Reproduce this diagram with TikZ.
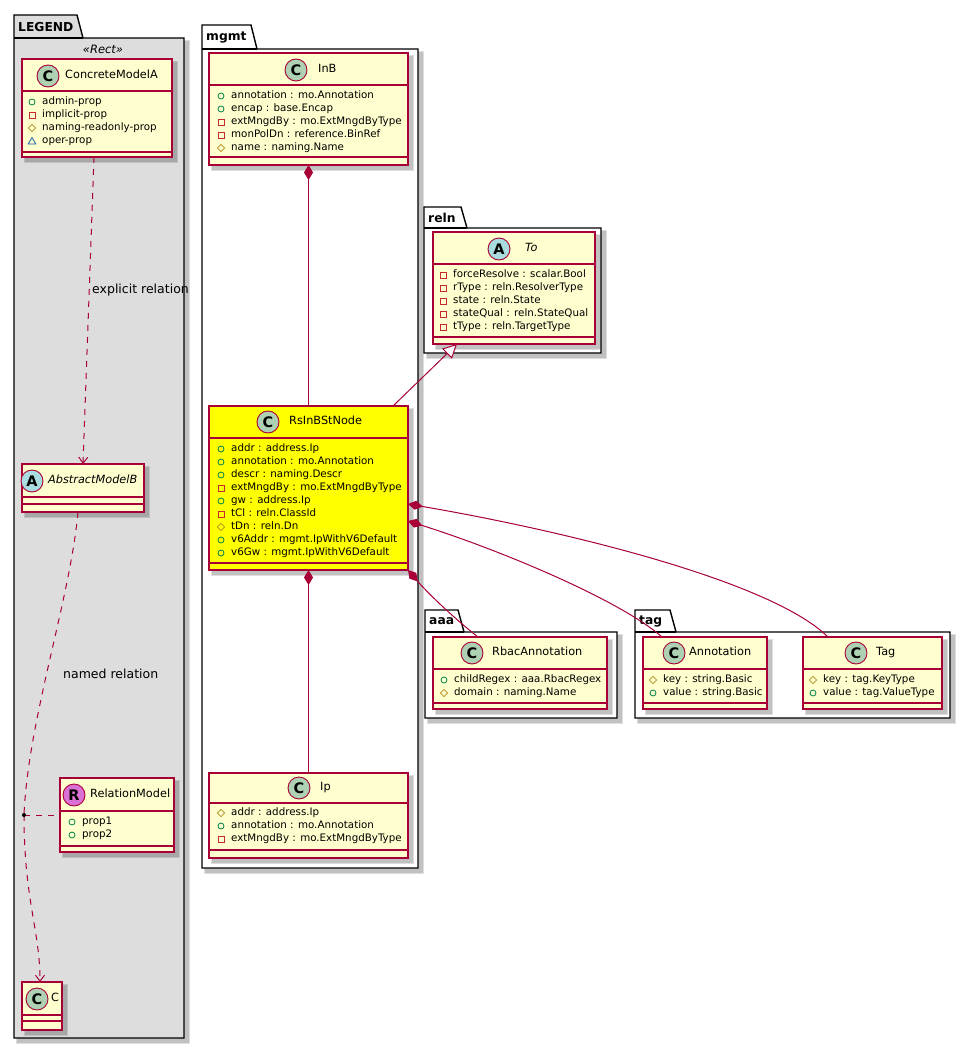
\documentclass[tikz,border=0pt]{standalone}
\usepackage{fontspec}
\setmainfont{DejaVu Sans}
\usetikzlibrary{arrows.meta,calc}
\definecolor{boxfill}{HTML}{FEFECE}
\definecolor{boxline}{HTML}{A80036}
\definecolor{spotC}{HTML}{ADD1B2}
\definecolor{spotA}{HTML}{A9DCDF}
\definecolor{spotR}{HTML}{DA70D6}
\definecolor{pubc}{HTML}{038048}
\definecolor{privc}{HTML}{C82930}
\definecolor{protc}{HTML}{B38D22}
\definecolor{pkgc}{HTML}{1963A0}
\definecolor{legendgray}{HTML}{DDDDDD}
\definecolor{hiyellow}{HTML}{FFFF00}
\tikzset{
  shadowA/.style={fill=black, opacity=0.13},
  classbox/.style={draw=boxline, line width=1.2, rectangle, inner sep=0, outer sep=0},
  sepline/.style={draw=boxline, line width=1.2},
  pkgline/.style={draw=black, line width=1.4},
  pkgname/.style={anchor=west, inner sep=0, font=\bfseries\fontsize{12.3}{13}\selectfont},
  attrt/.style={anchor=west, inner sep=0, font=\fontsize{10.3}{12}\selectfont, text height=7.6pt, text depth=2.2pt},
  titlet/.style={anchor=west, inner sep=0, font=\fontsize{11.3}{13}\selectfont, text height=8.3pt, text depth=2.4pt},
  spotline/.style={draw=boxline, line width=0.9},
  spotletter/.style={inner sep=0, font=\bfseries\fontsize{14.5}{14.5}\selectfont},
  rel/.style={draw=boxline, line width=1},
  dashrel/.style={rel, dash pattern=on 6pt off 6pt},
  dep/.style={dashrel, -{Straight Barb[length=6pt,width=9pt]}},
  comp/.style={rel, {Diamond[length=15pt,width=9pt,fill=boxline]}-},
  gen/.style={rel, -{Triangle[length=14pt,width=14pt,fill=white]}},
  lbl/.style={anchor=west, inner sep=0, font=\fontsize{12.5}{14}\selectfont}
}
\newcommand\icpub[2]{\draw[pubc, line width=0.8] (#1,#2) circle (3);}
\newcommand\icpriv[2]{\draw[privc, line width=0.8] (#1-3,#2-3) rectangle (#1+3,#2+3);}
\newcommand\icprot[2]{\draw[protc, line width=0.8] (#1-3.6,#2) -- (#1,#2-3.6) -- (#1+3.6,#2) -- (#1,#2+3.6) -- cycle;}
\newcommand\icpkg[2]{\draw[pkgc, line width=0.8] (#1-3.8,#2+3) -- (#1,#2-3.5) -- (#1+3.8,#2+3) -- cycle;}
\newcommand\attr[4]{#1{#2}{#3}\node[attrt] at (#2+10,#3) {#4};}
\newcommand\spot[4]{\draw[spotline, fill=#3] (#1,#2) circle (11);\node[spotletter] at (#1,#2) {#4};}
\newcommand\umlbox[8]{%
  \fill[shadowA] (#2+2,#3+2) rectangle (#4+6,#5+6);
  \fill[shadowA] (#2+3,#3+3) rectangle (#4+4.5,#5+4.5);
  \pgfmathsetmacro\bw{#4-#2}\pgfmathsetmacro\bh{#5-#3}%
  \node[classbox, fill=#8, minimum width=\bw pt, minimum height=\bh pt] (#1) at ({(#2+#4)/2},{(#3+#5)/2}) {};
  \draw[sepline] (#2,#6) -- (#4,#6) (#2,#7) -- (#4,#7);
}
\newcommand\pkgdraw[8]{%
  \fill[shadowA] (#1+2,#4+2) rectangle (#5+6,#6+6);
  \fill[shadowA] (#1+3,#4+3) rectangle (#5+4.5,#6+4.5);
  \draw[pkgline, fill=#7] (#1,#6) -- (#1,#2) -- (#3,#2) -- (#3+6,#4) -- (#5,#4) -- (#5,#6) -- cycle;
  \draw[pkgline] (#1,#4) -- (#3+6,#4);
  \node[pkgname] at (#1+4,{(#2+#4)/2+0.5}) {#8};
}
\begin{document}
\begin{tikzpicture}[x=1pt,y=-1pt]
\useasboundingbox (0,0) rectangle (970,1049);
\fill[white] (0,0) rectangle (970,1049);

% packages
\pkgdraw{14}{15}{77}{38}{184}{1038}{legendgray}{LEGEND}
\pkgdraw{202}{25}{251}{49}{418}{868}{white}{mgmt}
\pkgdraw{424}{207}{461}{228}{601}{353}{white}{reln}
\pkgdraw{425}{610}{458}{632}{617}{718}{white}{aaa}
\pkgdraw{635}{610}{670}{632}{950}{718}{white}{tag}

% legend
\node[inner sep=0, font=\itshape\fontsize{11.5}{12}\selectfont] (stereo) at (103,49) {«Rect»};

\umlbox{cma}{22}{59}{172}{157}{91}{152}{boxfill}
\spot{48}{76}{spotC}{C}
\node[titlet] (cmat) at (65,76) {ConcreteModelA};
\attr\icpub{32}{102}{admin-prop}
\attr\icpriv{32}{115}{implicit-prop}
\attr\icprot{32}{128}{naming-readonly-prop}
\attr\icpkg{32}{141}{oper-prop}

\umlbox{amb}{22}{464}{144}{512}{497}{504}{boxfill}
\spot{32}{481}{spotA}{A}
\node[titlet, font=\itshape\fontsize{11.3}{13}\selectfont] (ambt) at (48,481) {AbstractModelB};

\umlbox{relm}{60}{778}{174}{852}{811}{846}{boxfill}
\spot{74}{795}{spotR}{R}
\node[titlet] (relmt) at (90,795) {RelationModel};
\attr\icpub{72}{822}{prop1}
\attr\icpub{72}{835}{prop2}

\umlbox{clsc}{22}{982}{62}{1030}{1015}{1021}{boxfill}
\spot{37}{999}{spotC}{C}
\node[titlet] (clsct) at (51,999) {C};

% mgmt
\umlbox{inb}{209}{53}{408}{165}{85}{157}{boxfill}
\spot{296}{70}{spotC}{C}
\node[titlet] (inbt) at (318,70) {InB};
\attr\icpub{221}{96}{annotation : mo.Annotation}
\attr\icpub{221}{109}{encap : base.Encap}
\attr\icpriv{221}{122}{extMngdBy : mo.ExtMngdByType}
\attr\icpriv{221}{135}{monPolDn : reference.BinRef}
\attr\icprot{221}{148}{name : naming.Name}

\umlbox{rs}{209}{406}{408}{570}{438}{563}{hiyellow}
\spot{268}{422}{spotC}{C}
\node[titlet] (rst) at (289,422) {RsInBStNode};
\attr\icpub{221}{449}{addr : address.Ip}
\attr\icpub{221}{462}{annotation : mo.Annotation}
\attr\icpub{221}{475}{descr : naming.Descr}
\attr\icpriv{221}{488}{extMngdBy : mo.ExtMngdByType}
\attr\icpub{221}{501}{gw : address.Ip}
\attr\icpriv{221}{514}{tCl : reln.ClassId}
\attr\icprot{221}{527}{tDn : reln.Dn}
\attr\icpub{221}{540}{v6Addr : mgmt.IpWithV6Default}
\attr\icpub{221}{553}{v6Gw : mgmt.IpWithV6Default}

\umlbox{ip}{209}{773}{408}{858}{803}{850}{boxfill}
\spot{299}{788}{spotC}{C}
\node[titlet] (ipt) at (320,788) {Ip};
\attr\icprot{221}{813}{addr : address.Ip}
\attr\icpub{221}{826}{annotation : mo.Annotation}
\attr\icpriv{221}{839}{extMngdBy : mo.ExtMngdByType}

% reln
\umlbox{reto}{433}{232}{595}{344}{264}{337}{boxfill}
\spot{499}{249}{spotA}{A}
\node[titlet, font=\itshape\fontsize{11.3}{13}\selectfont] (retot) at (525,249) {To};
\attr\icpriv{443}{275}{forceResolve : scalar.Bool}
\attr\icpriv{443}{288}{rType : reln.ResolverType}
\attr\icpriv{443}{301}{state : reln.State}
\attr\icpriv{443}{314}{stateQual : reln.StateQual}
\attr\icpriv{443}{327}{tType : reln.TargetType}

% aaa
\umlbox{rbac}{433}{637}{607}{709}{669}{703}{boxfill}
\spot{472}{653}{spotC}{C}
\node[titlet] (rbact) at (492,653) {RbacAnnotation};
\attr\icpub{444}{680}{childRegex : aaa.RbacRegex}
\attr\icprot{444}{693}{domain : naming.Name}

% tag
\umlbox{ann}{643}{637}{767}{709}{669}{703}{boxfill}
\spot{674}{653}{spotC}{C}
\node[titlet] (annt) at (689,653) {Annotation};
\attr\icprot{653}{680}{key : string.Basic}
\attr\icpub{653}{693}{value : string.Basic}

\umlbox{tagc}{803}{637}{942}{709}{669}{703}{boxfill}
\spot{856}{653}{spotC}{C}
\node[titlet] (tagt) at (876,653) {Tag};
\attr\icprot{813}{680}{key : tag.KeyType}
\attr\icpub{813}{693}{value : tag.ValueType}

% legend connectors
\draw[dep] ($(cma.south)+(-3,0)$) -- (amb.north);
\node[lbl] (l1) at (92,290) {explicit relation};
\coordinate (jn) at (24,815);
\draw[dashrel] ($(amb.south)+(-5,0)$) .. controls (70,600) and (28,720) .. (jn);
\draw[dep] (jn) .. controls (24,900) and (40,930) .. ($(clsc.north)+(-2,0)$);
\draw[dashrel] (jn) -- (relm.west);
\fill (jn) circle (2);
\node[lbl] (l2) at (63,674) {named relation};

% mgmt connectors
\draw[comp] (inb.south) -- (rs.north);
\draw[comp] (rs.south) -- (ip.north);
\draw[gen] ($(rs.north east)+(-15,0)$) -- ($(reto.south west)+(24,0)$);
\draw[comp] ($(rs.north east)+(0,98)$) .. controls (560,530) and (770,580) .. ($(tagc.north west)+(25,0)$);
\draw[comp] ($(rs.north east)+(0,115)$) .. controls (500,550) and (620,600) .. ($(ann.north west)+(19,0)$);
\draw[comp] (rs.south east) .. controls (425,590) and (450,615) .. ($(rbac.north west)+(45,0)$);
\end{tikzpicture}
\end{document}
